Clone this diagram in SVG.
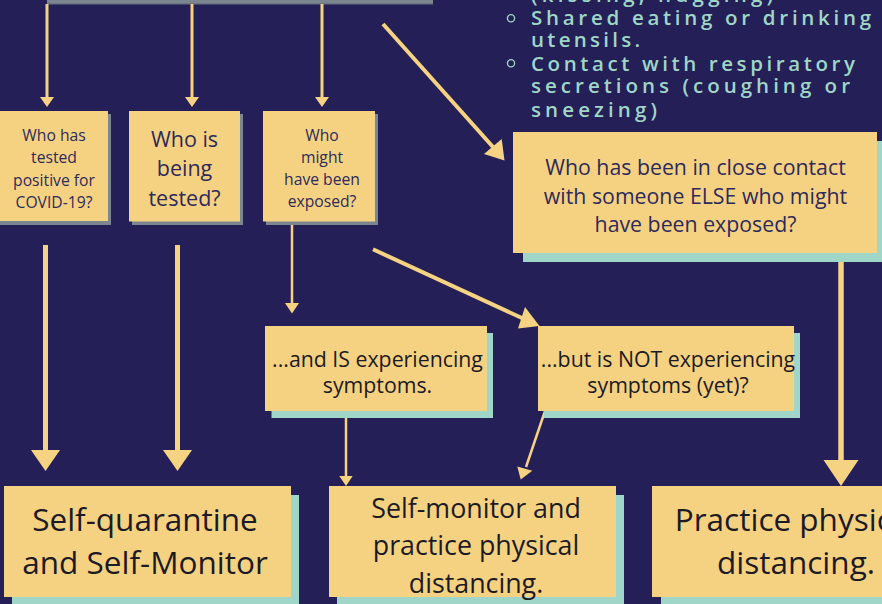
<svg xmlns="http://www.w3.org/2000/svg" width="882" height="604" viewBox="0 0 882 604">
  <style>
    .box { fill: #f5d281; }
    .gshadow { fill: #7c8691; }
    .tshadow { fill: #a0d6c8; }
    .t { font-family: "Open Sans", "Liberation Sans", sans-serif; text-anchor: middle; }
    .navy { fill: #2e2a5c; }
    .dark { fill: #1c1a24; }
    .side { font-family: "Open Sans", "Liberation Sans", sans-serif; font-size: 20.5px; font-weight: 600; fill: #9fd6c6; }
    .ln { stroke: #f6d382; fill: none; }
    .ah { fill: #f6d382; }
  </style>
  <rect x="0" y="0" width="882" height="604" fill="#241f57"/>

  <g id="top-bar">
    <rect x="47" y="-10" width="386" height="14" fill="#7c8691"/>
    <rect x="47" y="3" width="386" height="1.5" fill="#6b7580"/>
  </g>

  <g id="side-list">
    <text class="side" x="531" y="1.7" textLength="242" lengthAdjust="spacing">(kissing, hugging)</text>
    <circle cx="511" cy="18.3" r="3.6" fill="none" stroke="#9fd6c6" stroke-width="1.3"/>
    <text class="side" x="531" y="25" textLength="340" lengthAdjust="spacing">Shared eating or drinking</text>
    <text class="side" x="531" y="47.3" textLength="109" lengthAdjust="spacing">utensils.</text>
    <circle cx="511" cy="63.3" r="3.6" fill="none" stroke="#9fd6c6" stroke-width="1.3"/>
    <text class="side" x="531" y="70.7" textLength="324" lengthAdjust="spacing">Contact with respiratory</text>
    <text class="side" x="531" y="93.3" textLength="319" lengthAdjust="spacing">secretions (coughing or</text>
    <text class="side" x="531" y="116.7" textLength="126" lengthAdjust="spacing">sneezing)</text>
  </g>

  <g id="connectors">
    <line class="ln" x1="47" y1="4" x2="47" y2="98" stroke-width="3"/>
    <polygon class="ah" points="40,97 54,97 47,107"/>
    <line class="ln" x1="192" y1="4" x2="192" y2="98" stroke-width="3"/>
    <polygon class="ah" points="185,97 199,97 192,107"/>
    <line class="ln" x1="322" y1="4" x2="322" y2="98" stroke-width="3"/>
    <polygon class="ah" points="315,97 329,97 322,107"/>

    <line class="ln" x1="383" y1="24" x2="493" y2="147" stroke-width="4"/>
    <polygon class="ah" points="501.7,139 484,154 504.5,160.5"/>

    <line class="ln" x1="45.5" y1="245" x2="45.5" y2="452" stroke-width="5"/>
    <polygon class="ah" points="31,450 60,450 45.5,471"/>
    <line class="ln" x1="177.5" y1="245" x2="177.5" y2="452" stroke-width="5"/>
    <polygon class="ah" points="163,450 192,450 177.5,471"/>

    <line class="ln" x1="292" y1="222" x2="292" y2="305" stroke-width="2.5"/>
    <polygon class="ah" points="285,303 299,303 292,313.5"/>

    <line class="ln" x1="373" y1="249.3" x2="523" y2="318.5" stroke-width="4"/>
    <polygon class="ah" points="525,307 518,328.5 539.5,326"/>

    <line class="ln" x1="841" y1="253" x2="841" y2="462" stroke-width="5.5"/>
    <polygon class="ah" points="823.5,460 858.5,460 841,486"/>

    <line class="ln" x1="346" y1="411" x2="346" y2="478" stroke-width="2.5"/>
    <polygon class="ah" points="339.3,476 352.7,476 346,486"/>

    <line class="ln" x1="545" y1="411" x2="526" y2="467" stroke-width="2.5"/>
    <polygon class="ah" points="517.3,466.5 532.3,470.7 520.7,479.5"/>
  </g>

  <g id="node-tested-positive">
    <rect class="gshadow" x="0" y="114" width="111" height="111"/>
    <rect class="box" x="-5" y="111" width="113" height="110"/>
    <text class="t navy" font-size="15.7"><tspan x="54" y="140.7">Who has</tspan><tspan x="54" y="163">tested</tspan><tspan x="54" y="185.5">positive for</tspan><tspan x="54" y="208">COVID-19?</tspan></text>
  </g>

  <g id="node-being-tested">
    <rect class="gshadow" x="132" y="114" width="111" height="111"/>
    <rect class="box" x="129" y="111" width="111" height="110.5"/>
    <text class="t navy" font-size="21.5"><tspan x="184.5" y="146.7">Who is</tspan><tspan x="184.5" y="176">being</tspan><tspan x="184.5" y="206">tested?</tspan></text>
  </g>

  <g id="node-might-be-exposed">
    <rect class="gshadow" x="266" y="114" width="112" height="111"/>
    <rect class="box" x="263" y="111" width="112" height="110.5"/>
    <text class="t navy" font-size="15.7"><tspan x="322" y="140.7">Who</tspan><tspan x="322" y="162.7">might</tspan><tspan x="322" y="185">have been</tspan><tspan x="322" y="207">exposed?</tspan></text>
  </g>

  <g id="node-close-contact">
    <rect class="tshadow" x="523" y="141" width="370" height="121"/>
    <rect class="box" x="513" y="132" width="364" height="121"/>
    <text class="t navy" font-size="21.3"><tspan x="695.5" y="175">Who has been in close contact</tspan><tspan x="695.5" y="203.5">with someone ELSE who might</tspan><tspan x="695.5" y="232">have been exposed?</tspan></text>
  </g>

  <g id="node-is-experiencing">
    <rect class="tshadow" x="271.5" y="333" width="221.5" height="85"/>
    <rect class="box" x="265" y="326" width="222" height="85"/>
    <text class="t dark" font-size="21.3"><tspan x="377.5" y="367.3">...and IS experiencing</tspan><tspan x="377.5" y="393">symptoms.</tspan></text>
  </g>

  <g id="node-not-experiencing">
    <rect class="tshadow" x="544" y="333" width="256" height="85"/>
    <rect class="box" x="538" y="326" width="256" height="85"/>
    <text class="t dark" font-size="21.3"><tspan x="668" y="367.3">...but is NOT experiencing</tspan><tspan x="668" y="393">symptoms (yet)?</tspan></text>
  </g>

  <g id="node-self-quarantine">
    <rect class="tshadow" x="12" y="495" width="287" height="120"/>
    <rect class="box" x="4" y="486" width="287" height="111"/>
    <text class="t dark" font-size="31.5"><tspan x="145" y="531">Self-quarantine</tspan><tspan x="145" y="574">and Self-Monitor</tspan></text>
  </g>

  <g id="node-self-monitor">
    <rect class="tshadow" x="337" y="495" width="287" height="120"/>
    <rect class="box" x="329" y="486" width="287" height="111"/>
    <text class="t dark" font-size="26.8"><tspan x="476" y="517.7">Self-monitor and</tspan><tspan x="476" y="555">practice physical</tspan><tspan x="476" y="592.7">distancing.</tspan></text>
  </g>

  <g id="node-physical-distancing">
    <rect class="tshadow" x="661" y="495" width="287" height="120"/>
    <rect class="box" x="652" y="486" width="287" height="111"/>
    <text class="t dark" font-size="31.5"><tspan x="796" y="531">Practice physical</tspan><tspan x="796" y="574">distancing.</tspan></text>
  </g>
</svg>
